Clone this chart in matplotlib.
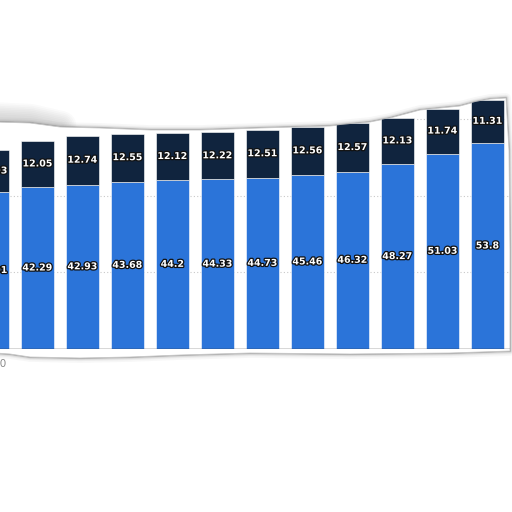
import matplotlib
matplotlib.use("Agg")
import matplotlib.pyplot as plt
import matplotlib.patheffects as pe
from matplotlib.patches import Polygon
from matplotlib.lines import Line2D
import numpy as np

years = ["2010", "2011", "2012", "2013", "2014", "2015", "2016", "2017", "2018", "2019", "2020", "2021"]
bottom_vals = [41.01, 42.29, 42.93, 43.68, 44.2, 44.33, 44.73, 45.46, 46.32, 48.27, 51.03, 53.8]
top_vals = [10.93, 12.05, 12.74, 12.55, 12.12, 12.22, 12.51, 12.56, 12.57, 12.13, 11.74, 11.31]

BLUE = "#2b74d9"
NAVY = "#10243e"
W, H = 512, 512

fig = plt.figure(figsize=(5.12, 5.12), dpi=100)
fig.patch.set_facecolor("white")

# axes: bottom at pixel row 349, 3.83 px per unit
base_px = 349
ppu = 3.83
ax = fig.add_axes([0, (H - base_px) / H, 1, base_px / H])
ax.set_facecolor("none")

x = np.arange(len(years))
bw = 33 / 45

# torn paper outline in pixel coords (x, y from top)
outline = [(-5, 122), (30, 123), (60, 127), (100, 128), (150, 130), (200, 130),
           (260, 128), (330, 126), (370, 122), (390, 118), (420, 110), (460, 106),
           (475, 102), (490, 99), (506, 98), (509, 150), (510, 250), (510, 351),
           (450, 353), (350, 354), (250, 353), (180, 355), (130, 357), (80, 358),
           (30, 357), (10, 354), (-5, 353)]
fx = [p[0] / W for p in outline]
fy = [1 - p[1] / H for p in outline]

# shadow
for lw, a in [(7, 0.05), (4.5, 0.08), (3, 0.13), (1.6, 0.26), (0.8, 0.45)]:
    fig.add_artist(Line2D(fx + [fx[0]], fy + [fy[0]], transform=fig.transFigure,
                          color="#6e6e6e", lw=lw, alpha=a, zorder=-3, solid_joinstyle="round"))
# soft blur near top-left
for k in range(8):
    lw = 4 + 2.5 * k
    fig.add_artist(Line2D([-0.02, 0.06, 0.12], [fy[0] + 0.010, fy[1] + 0.008, fy[2] + 0.002],
                          transform=fig.transFigure, color="#7a7a7a", lw=lw, alpha=0.035,
                          zorder=-3, solid_capstyle="round"))
paper = Polygon(list(zip(fx, fy)), closed=True, transform=fig.transFigure,
                facecolor="white", edgecolor="#c8c8c8", lw=0.6, zorder=-2)
fig.add_artist(paper)
clip = Polygon(list(zip(fx, fy)), closed=True, transform=fig.transFigure,
               facecolor="none", edgecolor="none")
fig.add_artist(clip)

# grid
for gy in [20, 40, 60]:
    ln = ax.axhline(gy, color="#c9c9c9", lw=0.8, ls=(0, (1, 2)), zorder=0)
    ln.set_clip_path(clip)

b1 = ax.bar(x, bottom_vals, width=bw, color=BLUE, edgecolor="white", linewidth=0.4, zorder=2)
b2 = ax.bar(x, top_vals, bottom=bottom_vals, width=bw, color=NAVY, edgecolor="white",
            linewidth=0.4, zorder=2)
for r in list(b1) + list(b2):
    r.set_clip_path(clip)

effects = [pe.withStroke(linewidth=1.8, foreground="#111111")]
for i in range(len(years)):
    t1 = ax.text(x[i], bottom_vals[i] / 2, f"{bottom_vals[i]:g}", ha="center", va="center",
                 color="white", fontsize=6.8, fontweight="bold", path_effects=effects, zorder=3)
    t2 = ax.text(x[i], bottom_vals[i] + top_vals[i] / 2, f"{top_vals[i]:g}", ha="center",
                 va="center", color="white", fontsize=6.8, fontweight="bold",
                 path_effects=effects, zorder=3)
    t1.set_clip_path(clip)
    t2.set_clip_path(clip)

ax.axhline(0, color="#3a3a3a", lw=1.0, zorder=4).set_clip_path(clip)

for s in ax.spines.values():
    s.set_visible(False)
ax.set_yticks([])
ax.set_xticks([])

# only the first year label survives the tear (partly, at the left edge)
ax.annotate(years[0], xy=(x[0], 0), xytext=(0.3, -7.5), textcoords="offset points",
            ha="center", va="top", color="#8a8a8a", fontsize=7.5, annotation_clip=False)

ax.set_xlim(7.5 / 45, 519.5 / 45)
ax.set_ylim(0, base_px / ppu)

fig.savefig("out.png", dpi=100)
